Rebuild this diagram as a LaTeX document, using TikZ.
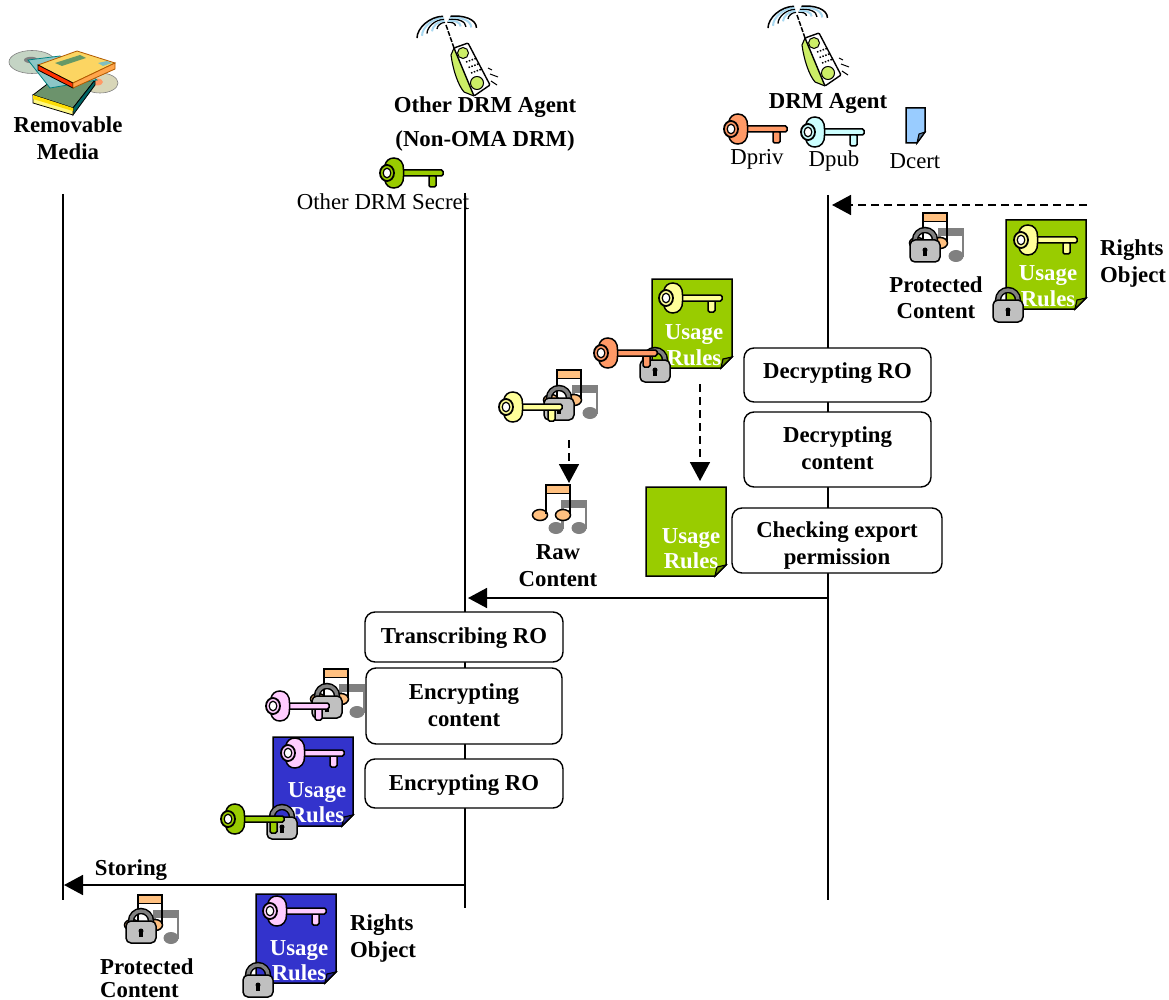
\documentclass[tikz,border=0pt]{standalone}
\usepackage{fontspec}
\setmainfont{Liberation Serif}
\usetikzlibrary{arrows.meta}
\definecolor{docgreen}{HTML}{99CC00}
\definecolor{docblue}{HTML}{3333CC}
\definecolor{keyorange}{HTML}{FF9966}
\definecolor{keycyan}{HTML}{CCFFFF}
\definecolor{keyyellow}{HTML}{FFFF99}
\definecolor{keypink}{HTML}{FFCCFF}
\definecolor{noteorange}{HTML}{FFC080}
\definecolor{notegray}{HTML}{808080}
\definecolor{lockbody}{HTML}{C0C0C0}
\definecolor{certblue}{HTML}{99CCFF}
\definecolor{wavecyan}{HTML}{A8D8F0}
\definecolor{phonegreen}{HTML}{CCEE66}
\newcommand{\up}[2]{\raisebox{#1pt}[16pt][5pt]{#2}}
\tikzset{
  lbl/.style={font=\fontsize{22.8}{27}\selectfont\bfseries, inner sep=0pt, anchor=base, yshift=-7pt},
  lblleft/.style={font=\fontsize{22.8}{27}\selectfont\bfseries, inner sep=0pt, anchor=base west, yshift=-7pt},
  plain/.style={font=\fontsize{22.8}{27}\selectfont, inner sep=0pt, anchor=base, yshift=-7pt},
  doctext/.style={font=\fontsize{22.8}{27}\selectfont\bfseries, inner sep=0pt, text=white, anchor=base, yshift=-7pt},
  procbox/.style={draw=black, line width=1.4pt, rounded corners=10pt, fill=white, inner sep=0pt, align=center,
     font=\fontsize{22.8}{27}\selectfont\bfseries},
  lifeline/.style={line width=1.6pt},
  msg/.style={line width=1.6pt, -{Triangle[length=19pt,width=20pt]}},
  dashmsg/.style={line width=1.6pt, dash pattern=on 8pt off 5pt, -{Triangle[length=19pt,width=20pt]}},
  keyicon/.pic={
    \draw[line width=1.5pt, fill=#1, rounded corners=1.5pt] (37,2) rectangle (44,14);
    \draw[line width=1.5pt, fill=#1, rounded corners=1.5pt] (8,-3) rectangle (51,3);
    \draw[line width=1.5pt, fill=#1] (11.5,-3) .. controls (12,-10) and (8,-15) .. (2,-15)
       .. controls (-3,-15) and (-6,-12) .. (-7,-8)
       -- (-7,8) .. controls (-6,12) and (-3,15) .. (2,15)
       .. controls (8,15) and (12,10) .. (11.5,3) -- cycle;
    \draw[line width=1.8pt, fill=#1] (-5,0) ellipse (7 and 8);
    \draw[line width=1.2pt, fill=white] (-5,0) ellipse (3.8 and 4.8);
  },
  musicicon/.pic={
    \fill[notegray] (16,15) rectangle (40,23);
    \fill[notegray] (15,15) rectangle (17.5,44);
    \fill[notegray] (38.5,15) rectangle (41,44);
    \fill[notegray] (10,43) ellipse (7.5 and 6);
    \fill[notegray] (33,43) ellipse (7.5 and 6);
    \draw[line width=1.5pt, fill=noteorange] (-6,30) ellipse (7.5 and 5.5);
    \draw[line width=1.5pt, fill=noteorange] (17,30) ellipse (7.5 and 5.5);
    \draw[line width=1.8pt, fill=noteorange] (0,0) rectangle (24,8.5);
    \draw[line width=2pt] (0,0) -- (0,29);
    \draw[line width=2pt] (24,0) -- (24,29);
  },
  lockicon/.pic={
    \draw[line width=6.4pt, black] (-10,-4) -- (-10,-10) arc[start angle=180,end angle=360,x radius=10,y radius=10] -- (10,-4);
    \draw[line width=3.4pt, notegray] (-10,-4) -- (-10,-10) arc[start angle=180,end angle=360,x radius=10,y radius=10] -- (10,-4);
    \draw[line width=1.5pt, fill=lockbody, rounded corners=5pt] (-15,-10) rectangle (15,12);
    \fill[black] (0,0) circle (2.5);
    \fill[black] (-1.8,0) rectangle (1.8,6);
  },
  docicon/.pic={
    \draw[line width=1.5pt, fill=#1, line join=miter] (0,0) -- (80,0) -- (80,78) -- (69,89) -- (0,89) -- cycle;
    \draw[line width=1.2pt, fill=#1!70!black] (80,78) -- (69,89) -- (71,80) -- cycle;
  },
  phoneicon/.pic={
    \foreach \r/\c/\w in {9/black/1.3, 14/wavecyan/2, 19/black/1.3, 24/wavecyan/2, 29/black/1.5}{
      \draw[line width=\w pt, color=\c] ({-\r},{0.45*\r}) .. controls ({-\r},{0.1*\r}) and ({-0.55*\r},{-0.3*\r}) .. ({-0.1*\r},{-0.3*\r});
      \draw[line width=\w pt, color=\c] ({0.15*\r},{-0.3*\r}) .. controls ({0.6*\r},{-0.35*\r}) and ({1.05*\r},{-0.2*\r}) .. ({1.05*\r},{0.1*\r});
    }
    \draw[line width=1.5pt, dash pattern=on 5pt off 1.5pt] (0,0) -- (8,23);
    \fill[phonegreen] (5,30) -- (8,23) -- (28,71) -- (18,67) .. controls (12,60) and (7,45) .. (5,30) -- cycle;
    \draw[line width=1.1pt] (8,23) -- (5,30) .. controls (7,45) and (12,60) .. (18,67) -- (28,71);
    \draw[line width=1.4pt, fill=white, rounded corners=1pt] (8,23) -- (22,18) -- (44,60) -- (28,71) -- cycle;
    \draw[line width=1pt, fill=phonegreen] (17,28) circle (5.5);
    \draw[line width=1pt, fill=phonegreen] (31,58) circle (6.5);
    \foreach \i in {0,1,2}{
      \draw[line width=1.5pt, dash pattern=on 1.5pt off 1.5pt] ({20+\i*2.5},{37+\i*5.5}) -- ({31+\i*2.5},{33+\i*5.5});
    }
    \draw[line width=1pt] (42,43) -- (46,45);
    \draw[line width=1pt] (44,49) -- (52,52);
    \draw[line width=1pt] (45,56) -- (51,60);
  },
}
\begin{document}
\begin{tikzpicture}[x=1pt,y=-1pt]
\useasboundingbox (0,0) rectangle (1169,1000);
\fill[white] (0,0) rectangle (1169,1000);

% Removable media picture
\draw[line width=0.6pt, draw=gray, fill=green!15!gray!40] (32,62) ellipse (23 and 11.5);
\fill[gray] (31,60) ellipse (7 and 3.2);
\draw[line width=0.6pt, draw=gray, fill=yellow!30!gray!50] (100,83) ellipse (18 and 10);
\fill[keyorange] (97,82) ellipse (6 and 3.5);
\draw[line width=0.8pt, fill=green!15!gray] (33,95) -- (50,82) -- (95,80) -- (73,108) -- cycle;
\draw[line width=0.8pt, fill=teal!80!black] (73,108) -- (95,80) -- (95,85) -- (73,115) -- cycle;
\draw[line width=0.8pt, fill=yellow!50] (33,95) -- (73,108) -- (73,115) -- (33,103) -- cycle;
\fill[yellow!80!orange] (33,95) -- (73,108) -- (73,111) -- (33,99) -- cycle;
\draw[line width=0.8pt, draw=teal, fill=teal!45] (28,60) -- (60,56) -- (97,80) -- (50,88) -- cycle;
\draw[line width=0.8pt, draw=orange!70!black, fill=yellow!50!orange!60] (38,65) -- (77,51) -- (115,63) -- (73,83) -- cycle;
\draw[line width=0.8pt, fill=red!60!orange] (38,65) -- (73,83) -- (73,88) -- (38,70) -- cycle;
\draw[line width=0.8pt, draw=orange!70!black, fill=orange!70] (73,83) -- (115,63) -- (115,69) -- (73,88) -- cycle;
\fill[green!20!gray] (55,63) -- (80,55) -- (86,58) -- (62,66) -- cycle;
\fill[teal!50] (98,63) -- (107,61) -- (112,63) -- (103,66) -- cycle;

% Lifeline ends
\coordinate (rmTop) at (63,194);
\coordinate (rmBot) at (63,900);
\coordinate (otTop) at (465,193);
\coordinate (otBot) at (465,908);
\coordinate (agTop) at (828,195);
\coordinate (agBot) at (828,900);
\draw[lifeline] (rmTop) -- (rmBot);
\draw[lifeline] (otTop) -- (otBot);
\draw[lifeline] (agTop) -- (agBot);

% Heading labels
\node[lbl] (tRemovable) at (68,126) {Removable};
\node[lbl] (tMedia) at (68,153) {Media};
\node[lbl] (tOther) at (485,106) {Other DRM Agent};
\node[lbl] (tNonOma) at (485,140) {(Non-OMA DRM)};
\node[plain] (tSecret) at (383,203) {Other DRM Secret};
\node[lbl] (tAgent) at (828,102) {DRM Agent};
\node[plain] (tDpriv) at (757,158) {Dpriv};
\node[plain] (tDpub) at (834,160) {Dpub};
\node[plain] (tDcert) at (915,162) {Dcert};

% Phones
\pic at (446,25) {phoneicon};
\pic at (797,15) {phoneicon};

% Header keys and certificate
\pic at (392,173) {keyicon=docgreen};
\pic at (736,129) {keyicon=keyorange};
\pic at (813,132) {keyicon=keycyan};
\draw[line width=1.5pt, fill=certblue] (906,108) -- (925,108) -- (925,132) -- (917,143) -- (906,143) -- cycle;
\draw[line width=1.1pt, fill=certblue!60!black] (925,132) -- (917,143) -- (919,134) -- cycle;

% Top-right: protected content and RO
\coordinate (roSource) at (1087,205);
\coordinate (roTarget) at (832,205);
\draw[dashmsg] (roSource) -- (roTarget);
\pic at (923,213) {musicicon};
\pic at (925,250) {lockicon};
\node[lbl] (tProtA) at (936,285) {Protected};
\node[lbl] (tContA) at (936,311) {Content};
\pic at (1006,220) {docicon=docgreen};
\pic at (1026,240) {keyicon=keyyellow};
\node[doctext] (tUsageA) at (1048,273) {Usage};
\node[doctext] (tRulesA) at (1048,299) {Rules};
\pic at (1008,310) {lockicon};
\node[lblleft] (tRightsA) at (1100,249) {Rights};
\node[lblleft] (tObjectA) at (1100,276) {Object};

% Decrypting RO group
\pic at (652,279) {docicon=docgreen};
\pic at (671,298) {keyicon=keyyellow};
\node[doctext] (tUsageB) at (694,332) {Usage};
\node[doctext] (tRulesB) at (694,358) {Rules};
\pic at (655,370) {lockicon};
\pic at (606,353) {keyicon=keyorange};

% Decrypting content group
\pic at (557,370) {musicicon};
\pic at (559,408) {lockicon};
\pic at (511,407) {keyicon=keyyellow};

% Raw content
\pic at (546,485) {musicicon};
\node[lbl] (tRaw) at (558,552) {Raw};
\node[lbl] (tRawC) at (558,579) {Content};

% Exported usage rules
\pic at (646,487) {docicon=docgreen};
\node[doctext] (tUsageC) at (691,536) {Usage};
\node[doctext] (tRulesC) at (691,561) {Rules};

% Dashed arrows
\coordinate (decA) at (569,440);
\coordinate (decB) at (569,483);
\coordinate (roA) at (700,384);
\coordinate (roB) at (700,481);
\draw[dashmsg] (decA) -- (decB);
\draw[dashmsg] (roA) -- (roB);

% Process boxes, agent
\node[procbox, minimum width=187pt, minimum height=54pt] (bDecRO) at (837.5,375) {\up{2}{Decrypting RO}};
\node[procbox, minimum width=187pt, minimum height=75pt] (bDecC) at (837.5,449.5) {\up{-1}{Decrypting}\\\up{-1}{content}};
\node[procbox, minimum width=210pt, minimum height=65pt] (bCheck) at (837,540.5) {\up{-5}{Checking export}\\\up{-5}{permission}};

% Export message
\coordinate (exA) at (827,598);
\coordinate (exB) at (468,598);
\draw[msg] (exA) -- (exB);

% Process boxes, other agent
\node[procbox, minimum width=198pt, minimum height=50pt] (bTrans) at (464,637) {\up{-1}{Transcribing RO}};
\node[procbox, minimum width=196pt, minimum height=76pt] (bEncC) at (464,706) {\up{-1}{Encrypting}\\\up{-1}{content}};
\node[procbox, minimum width=198pt, minimum height=49pt] (bEncRO) at (464,783.5) {\up{-1}{Encrypting RO}};

% Encrypting content group
\pic at (324,669) {musicicon};
\pic at (327,706) {lockicon};
\pic at (278,706) {keyicon=keypink};

% Encrypted RO group
\pic at (273,737) {docicon=docblue};
\pic at (293,753) {keyicon=keypink};
\node[doctext] (tUsageD) at (317,790) {Usage};
\node[doctext] (tRulesD) at (317,815) {Rules};
\pic at (282,827) {lockicon};
\pic at (233,819) {keyicon=docgreen};

% Storing
\coordinate (stA) at (465,885);
\coordinate (stB) at (64,885);
\draw[msg] (stA) -- (stB);
\node[lbl] (tStoring) at (131,868) {Storing};

% Bottom: protected content and RO
\pic at (138,895) {musicicon};
\pic at (141,931) {lockicon};
\node[lblleft] (tProtB) at (100,967) {Protected};
\node[lblleft] (tContB) at (100,990) {Content};
\pic at (256,894) {docicon=docblue};
\pic at (275,911) {keyicon=keypink};
\node[doctext] (tUsageE) at (299,948) {Usage};
\node[doctext] (tRulesE) at (299,973) {Rules};
\pic at (258,985) {lockicon};
\node[lblleft] (tRightsB) at (350,923) {Rights};
\node[lblleft] (tObjectB) at (350,950) {Object};
\end{tikzpicture}
\end{document}
